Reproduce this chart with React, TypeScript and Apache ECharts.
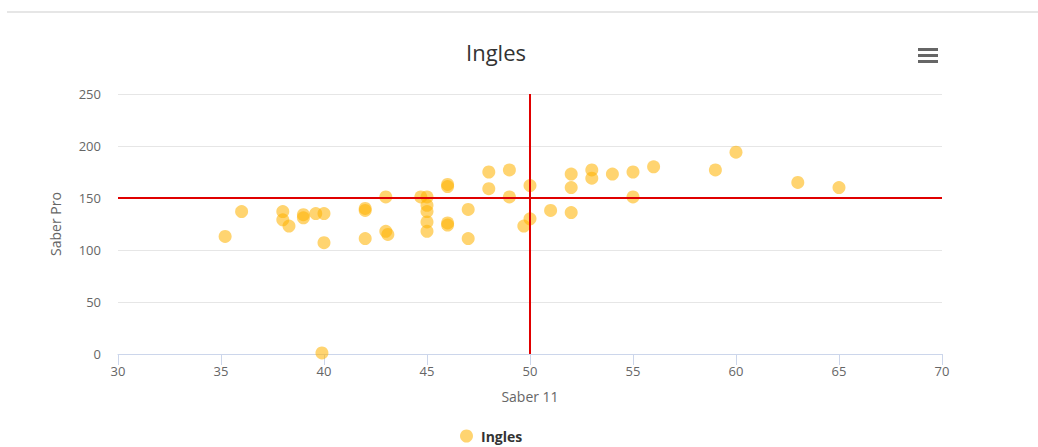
import React, { useEffect, useRef } from "react";
import * as echarts from "echarts";

const seriesName = "Ingles";
const saber11 = [35.2, 36, 38, 38, 38.3, 39, 39, 39.6, 40, 40, 39.9, 42, 42, 42, 43, 43, 43.1, 44.7, 45, 45, 45, 45, 45, 46, 46, 46, 46, 47, 47, 48, 48, 49, 49, 50, 50, 49.7, 51, 52, 52, 52, 53, 53, 54, 55, 55, 56, 59, 60, 63, 65];
const saberPro = [113, 137, 137, 129, 123, 134, 131, 135, 135, 107, 1, 138, 140, 111, 151, 118, 115, 151, 151, 143, 137, 127, 118, 163, 161, 126, 124, 139, 111, 175, 159, 177, 151, 162, 130, 123, 138, 173, 160, 136, 177, 169, 173, 175, 151, 180, 177, 194, 165, 160];
const refX = 50;
const refY = 150;

const FONT = "'Open Sans', 'Noto Sans', sans-serif";

export default function App() {
  const ref = useRef<HTMLDivElement>(null);
  useEffect(() => {
    document.body.style.margin = "0";
    const chart = echarts.init(ref.current!, null, { renderer: "svg" });
    const points = saber11.map((x, i) => [x, saberPro[i]]);
    chart.setOption({
      animation: false,
      textStyle: { fontFamily: FONT },
      title: {
        text: "Ingles",
        left: 491,
        textAlign: "center",
        top: 36,
        textStyle: { fontFamily: FONT, fontSize: 22, fontWeight: "normal", color: "#333333" },
      },
      graphic: [
        { type: "rect", shape: { x: 7, y: 11, width: 1031, height: 2 }, style: { fill: "#e6e6e6" } },
        { type: "rect", shape: { x: 918, y: 48, width: 20, height: 3 }, style: { fill: "#666666" } },
        { type: "rect", shape: { x: 918, y: 54, width: 20, height: 3 }, style: { fill: "#666666" } },
        { type: "rect", shape: { x: 918, y: 60, width: 20, height: 3 }, style: { fill: "#666666" } },
      ],
      legend: {
        data: [seriesName],
        left: 455,
        top: 424,
        padding: 5,
        icon: "circle",
        itemWidth: 13,
        itemHeight: 13,
        textStyle: { fontFamily: FONT, fontSize: 14, fontWeight: "bold", color: "#333333", padding: [0, 0, 0, 3] },
      },
      grid: { left: 118, right: 96, top: 94, bottom: 93, containLabel: false },
      xAxis: {
        type: "value",
        min: 30,
        max: 70,
        interval: 5,
        name: "Saber 11",
        nameLocation: "middle",
        nameGap: 35,
        nameTextStyle: { fontFamily: FONT, fontSize: 14, color: "#666666" },
        axisLine: { show: true, lineStyle: { color: "#ccd6eb", width: 1 } },
        axisTick: { show: true, length: 11, lineStyle: { color: "#ccd6eb" } },
        axisLabel: { fontFamily: FONT, fontSize: 13, color: "#666666", margin: 10 },
        splitLine: { show: false },
      },
      yAxis: {
        type: "value",
        min: 0,
        max: 250,
        interval: 50,
        name: "Saber Pro",
        nameLocation: "middle",
        nameGap: 56,
        nameTextStyle: { fontFamily: FONT, fontSize: 14, color: "#666666" },
        axisLine: { show: false },
        axisTick: { show: false },
        axisLabel: { fontFamily: FONT, fontSize: 13, color: "#666666", margin: 17 },
        splitLine: { lineStyle: { color: "#e6e6e6", width: 1 } },
      },
      series: [
        {
          name: seriesName,
          type: "scatter",
          data: points,
          symbolSize: 13,
          itemStyle: { color: "rgba(255,179,0,0.7)" },
          emphasis: { disabled: true },
          markLine: {
            silent: true,
            symbol: "none",
            label: { show: false },
            lineStyle: { color: "#e00000", width: 2, type: "solid" },
            data: [{ xAxis: refX }, { yAxis: refY }],
          },
        },
      ],
    });
    return () => chart.dispose();
  }, []);
  return <div ref={ref} style={{ width: 1038, height: 447 }} />;
}
